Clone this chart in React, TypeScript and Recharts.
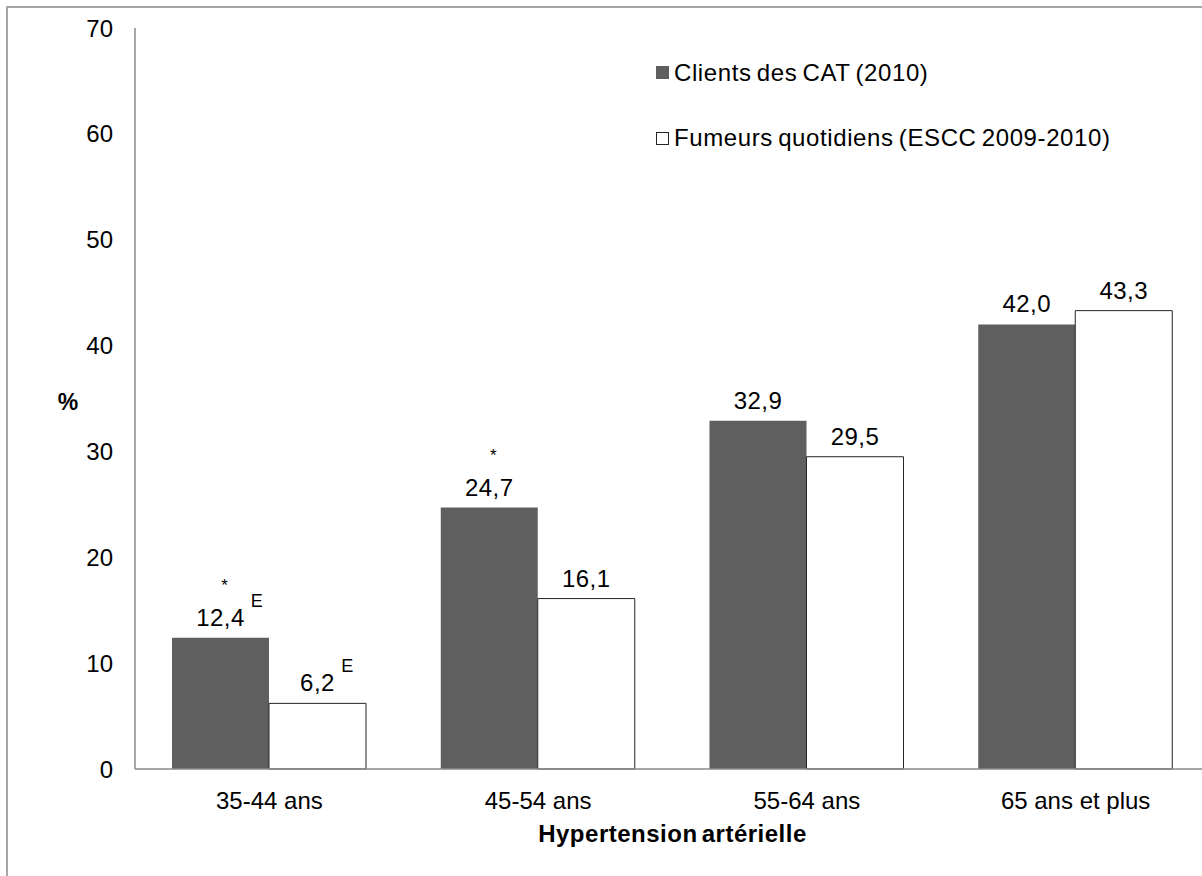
import React from 'react';
import { BarChart, Bar, XAxis, YAxis, Legend, LabelList } from 'recharts';

const ageGroups = ['35-44 ans', '45-54 ans', '55-64 ans', '65 ans et plus'];
const clientsCat = [12.4, 24.7, 32.9, 42.0];
const fumeursEscc = [6.2, 16.1, 29.5, 43.3];
// marks drawn next to the value labels
const clientsStars = ['*', '*', '', ''];
const clientsFlags = ['E', '', '', ''];
const fumeursFlags = ['E', '', '', ''];
const yTicks = [0, 10, 20, 30, 40, 50, 60, 70];
const seriesNames = ['Clients des CAT (2010)', 'Fumeurs quotidiens (ESCC 2009-2010)'];

const FONT = '"Liberation Sans", Arial, sans-serif';
const FS = 24;

const data = ageGroups.map((group, i) => ({
  group,
  clients: clientsCat[i],
  fumeurs: fumeursEscc[i],
}));

const fmt = (v: number) => v.toFixed(1).replace('.', ',');

const makeLabel = (stars: string[], flags: string[]) => (props: any) => {
  const { x, y, width, value, index } = props;
  const cx = x + width / 2;
  const txt = fmt(Number(value));
  const w = ((txt.length - 1) * 0.556 + 0.278) * FS;
  return (
    <g fontFamily={FONT} fill="#000">
      <text x={cx} y={y - 12} textAnchor="middle" fontSize={FS} letterSpacing={0.5}>{txt}</text>
      {stars[index] ? (
        <text x={cx + 4} y={y - 47} textAnchor="middle" fontSize={17}>{stars[index]}</text>
      ) : null}
      {flags[index] ? (
        <text x={cx + w / 2 + 7} y={y - 31} fontSize={18}>{flags[index]}</text>
      ) : null}
    </g>
  );
};

const renderLegend = (props: any) => {
  const items = props.payload || [];
  return (
    <div style={{ fontFamily: FONT, fontSize: 24, color: '#000' }}>
      {items.map((it: any, i: number) => (
        <div key={i} style={{ display: 'flex', alignItems: 'center', height: 65.5, whiteSpace: 'nowrap' }}>
          <span
            style={{
              width: i === 0 ? 13 : 11,
              height: i === 0 ? 13 : 11,
              background: i === 0 ? '#5f5f5f' : '#fff',
              border: i === 0 ? 'none' : '1px solid #262626',
              display: 'inline-block',
            }}
          />
          <span style={{ marginLeft: 5, wordSpacing: -2, letterSpacing: 0.6 }}>{it.value}</span>
        </div>
      ))}
    </div>
  );
};

export default function App() {
  return (
    <div
      style={{
        position: 'fixed',
        top: 6,
        left: 6,
        right: 0,
        bottom: 0,
        borderTop: '2px solid #a6a6a6',
        borderLeft: '2px solid #a6a6a6',
        overflow: 'hidden',
        background: '#fff',
      }}
    >
      <BarChart
        width={1202}
        height={868}
        data={data}
        margin={{ top: 20, right: 0, bottom: 47, left: 0 }}
        barCategoryGap={37}
        barGap={0}
      >
        <XAxis
          dataKey="group"
          height={60}
          axisLine={{ stroke: '#8a8a8a', strokeWidth: 1.5 }}
          tickLine={false}
          tickMargin={17}
          tick={{ fontSize: FS, fill: '#000', fontFamily: FONT }}
          label={(p: any) => {
            const vb = p.viewBox || {};
            return (
              <text
                x={vb.x + vb.width / 2}
                y={vb.y + 73}
                textAnchor="middle"
                fontSize={24}
                fontWeight="bold"
                fontFamily={FONT}
                fill="#000"
                wordSpacing={-3}
                letterSpacing={0.5}
              >
                Hypertension artérielle
              </text>
            );
          }}
        />
        <YAxis
          width={127}
          domain={[0, 70]}
          ticks={yTicks}
          interval={0}
          axisLine={{ stroke: '#8a8a8a', strokeWidth: 1.5 }}
          tickLine={false}
          tickMargin={16}
          tick={{ fontSize: FS, fill: '#000', fontFamily: FONT }}
          label={(p: any) => {
            const vb = p.viewBox || {};
            return (
              <text
                x={vb.x + 60}
                y={vb.y + vb.height / 2 + 11}
                textAnchor="middle"
                fontSize={23}
                fontWeight="bold"
                fontFamily={FONT}
                fill="#000"
              >
                %
              </text>
            );
          }}
        />
        <Legend
          layout="vertical"
          align="center"
          verticalAlign="middle"
          content={renderLegend}
          wrapperStyle={{ top: 32, left: 648, width: 540 }}
        />
        <Bar dataKey="clients" name={seriesNames[0]} fill="#5f5f5f" isAnimationActive={false}>
          <LabelList dataKey="clients" content={makeLabel(clientsStars, clientsFlags)} />
        </Bar>
        <Bar
          dataKey="fumeurs"
          name={seriesNames[1]}
          fill="#ffffff"
          stroke="#262626"
          strokeWidth={1}
          isAnimationActive={false}
        >
          <LabelList dataKey="fumeurs" content={makeLabel([], fumeursFlags)} />
        </Bar>
      </BarChart>
    </div>
  );
}
